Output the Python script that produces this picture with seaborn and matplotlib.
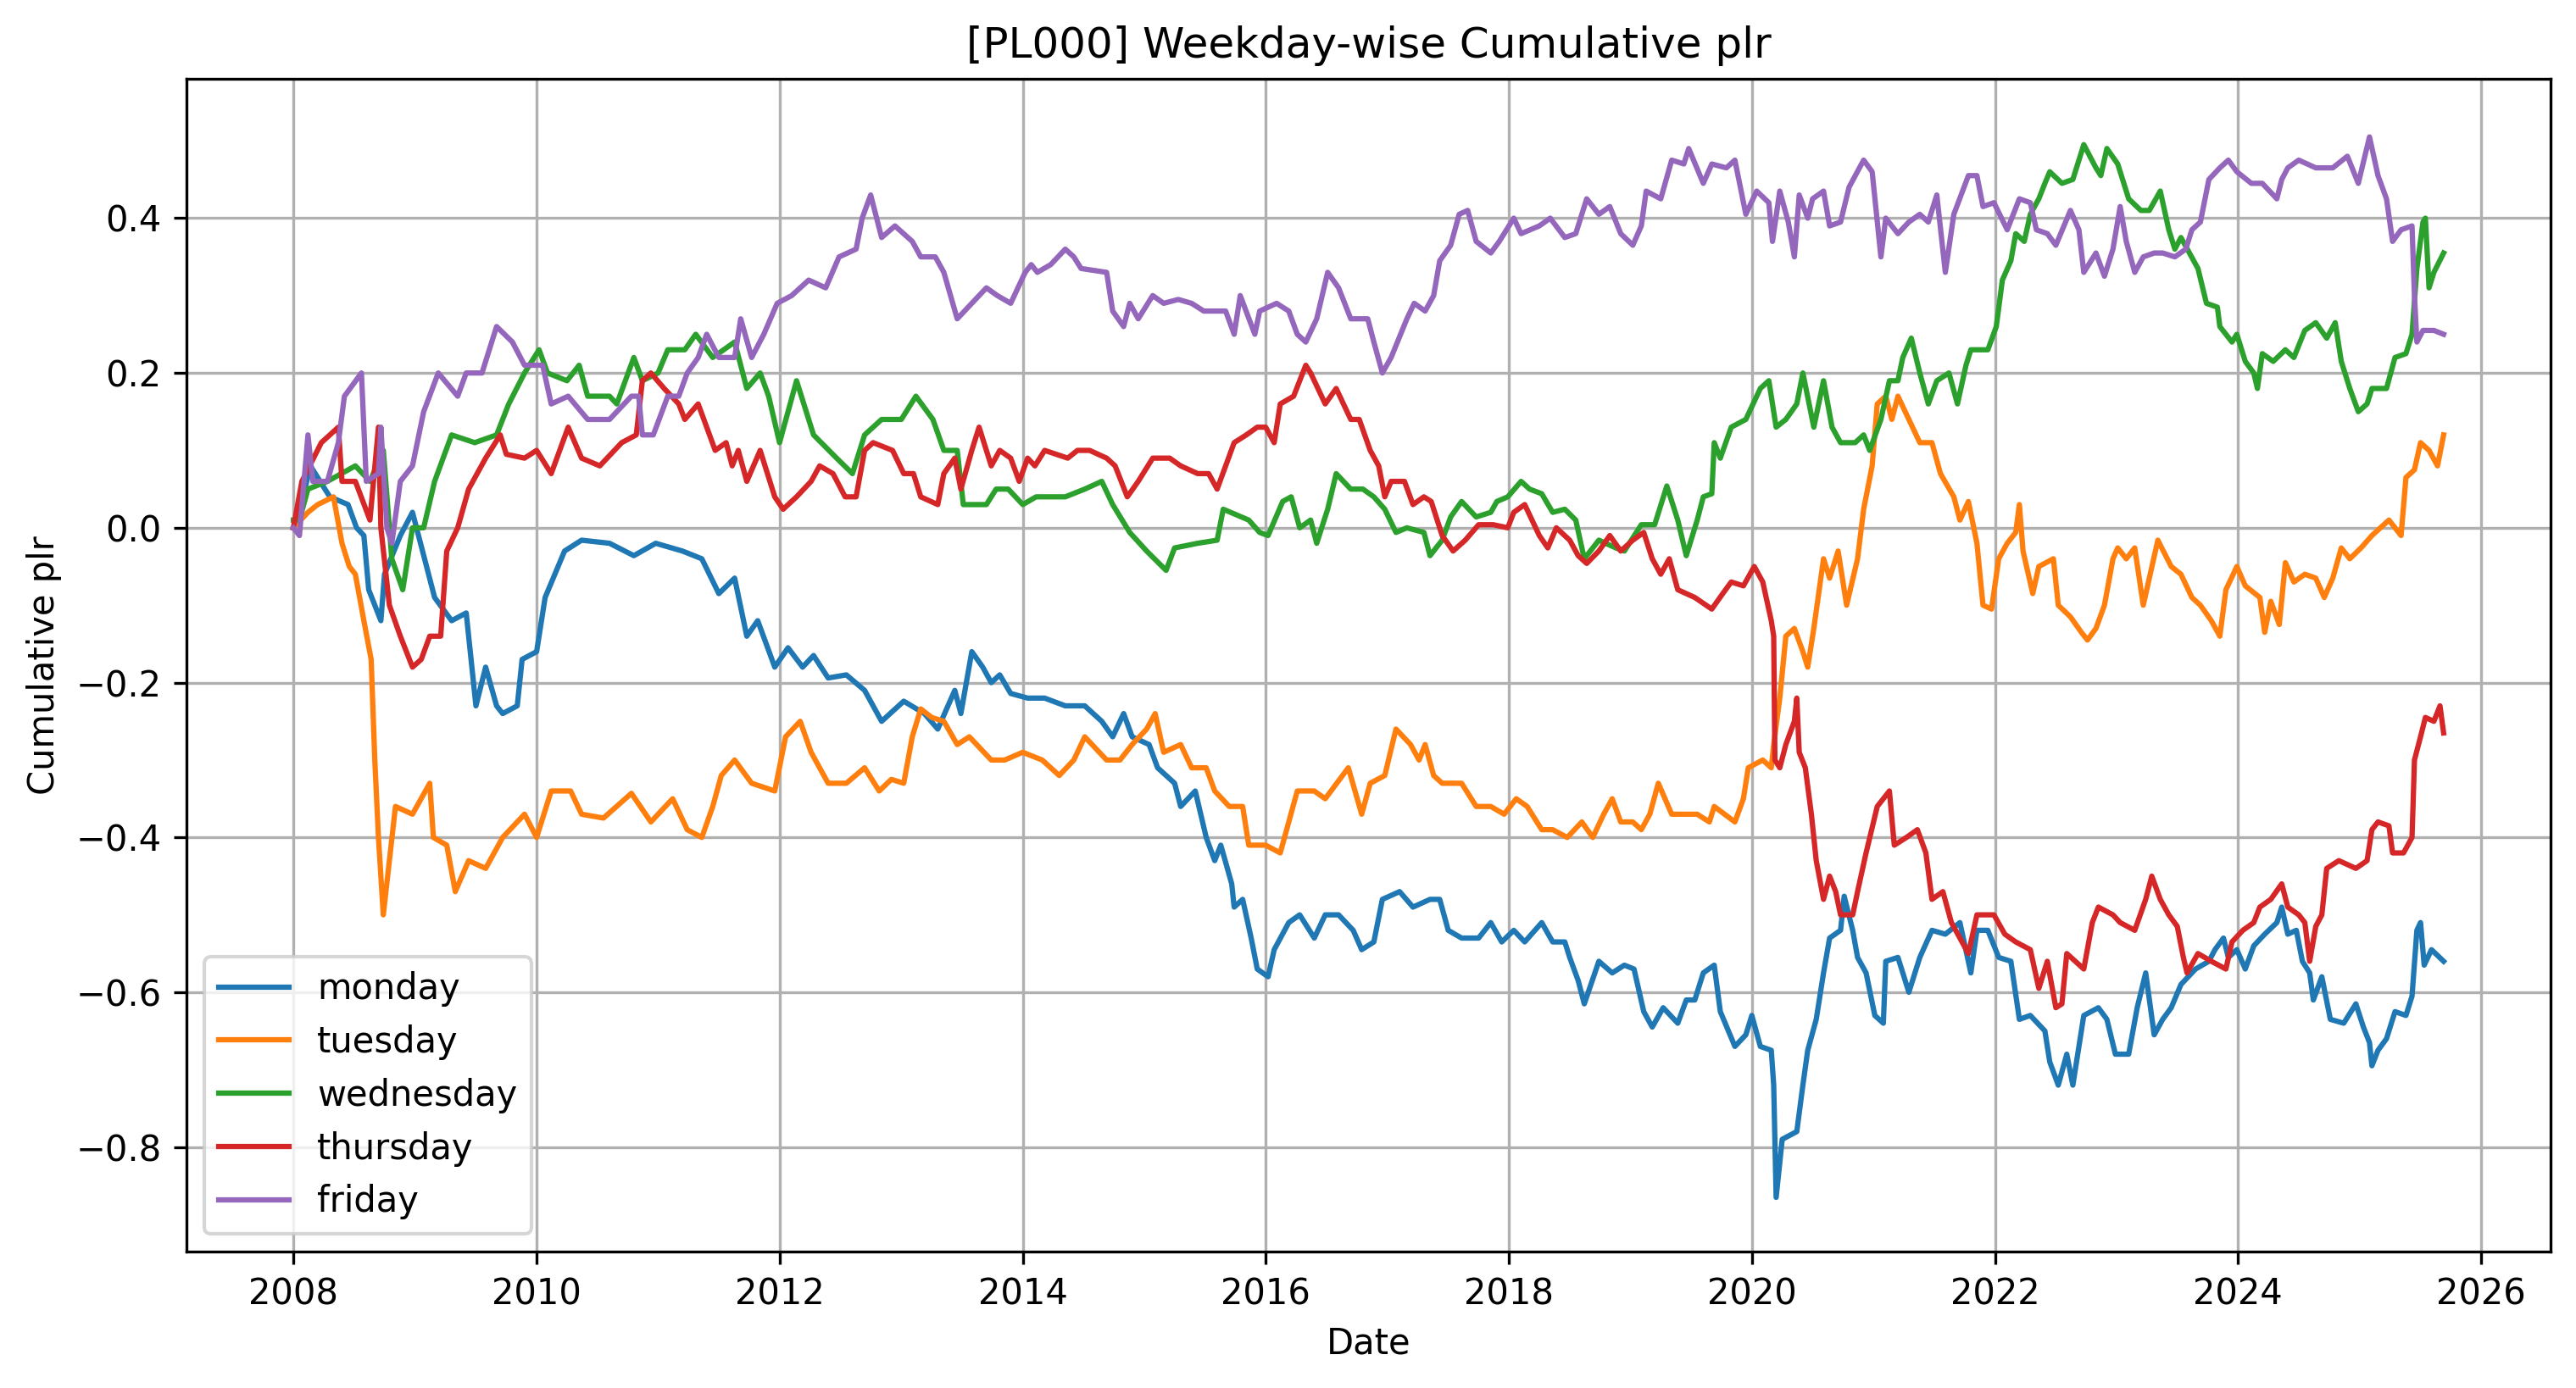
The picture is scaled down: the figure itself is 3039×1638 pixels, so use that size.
import numpy as np
import pandas as pd
import matplotlib
matplotlib.use("Agg")
from matplotlib import pyplot as plt
import seaborn as sns

# Cumulative plr per weekday (time as fractional year)
monday_t = [2008.0, 2008.05, 2008.14, 2008.3, 2008.45, 2008.52, 2008.58, 2008.62, 2008.72, 2008.75, 2008.88, 2008.98,
            2009.16, 2009.3, 2009.42, 2009.5, 2009.58, 2009.67, 2009.72, 2009.84, 2009.88, 2010.0, 2010.07, 2010.23,
            2010.37, 2010.6, 2010.8, 2010.98, 2011.2, 2011.36, 2011.5, 2011.63, 2011.73, 2011.82, 2011.96, 2012.07,
            2012.19, 2012.28, 2012.4, 2012.55, 2012.7, 2012.84, 2013.02, 2013.19, 2013.3, 2013.44, 2013.49, 2013.58,
            2013.67, 2013.74, 2013.81, 2013.9, 2014.04, 2014.18, 2014.35, 2014.51, 2014.65, 2014.74, 2014.83, 2014.9,
            2015.04, 2015.11, 2015.25, 2015.3, 2015.42, 2015.51, 2015.58, 2015.63, 2015.72, 2015.74, 2015.81, 2015.88,
            2015.93, 2016.02, 2016.07, 2016.19, 2016.28, 2016.4, 2016.49, 2016.6, 2016.72, 2016.79, 2016.89, 2016.96,
            2017.1, 2017.21, 2017.35, 2017.43, 2017.5, 2017.61, 2017.75, 2017.85, 2017.94, 2018.04, 2018.13, 2018.27,
            2018.36, 2018.46, 2018.5, 2018.57, 2018.62, 2018.74, 2018.85, 2018.95, 2019.03, 2019.11, 2019.18, 2019.27,
            2019.39, 2019.46, 2019.53, 2019.6, 2019.69, 2019.74, 2019.86, 2019.95, 2020.0, 2020.07, 2020.16, 2020.18,
            2020.2, 2020.25, 2020.37, 2020.42, 2020.46, 2020.53, 2020.59, 2020.64, 2020.73, 2020.76, 2020.83, 2020.87,
            2020.94, 2021.01, 2021.08, 2021.1, 2021.2, 2021.29, 2021.38, 2021.48, 2021.59, 2021.71, 2021.8, 2021.85,
            2021.94, 2022.03, 2022.13, 2022.2, 2022.29, 2022.41, 2022.45, 2022.52, 2022.59, 2022.64, 2022.73, 2022.85,
            2022.92, 2022.99, 2023.1, 2023.17, 2023.24, 2023.31, 2023.38, 2023.45, 2023.53, 2023.65, 2023.76, 2023.81,
            2023.88, 2023.92, 2023.99, 2024.06, 2024.13, 2024.22, 2024.32, 2024.36, 2024.41, 2024.48, 2024.53, 2024.59,
            2024.62, 2024.69, 2024.76, 2024.87, 2024.97, 2025.03, 2025.08, 2025.1, 2025.15, 2025.22, 2025.29, 2025.38,
            2025.43, 2025.47, 2025.5, 2025.53, 2025.59, 2025.69]
monday_v = [0.0, 0.02, 0.08, 0.04, 0.03, 0.0, -0.01, -0.08, -0.12, -0.06, -0.01, 0.02,
            -0.09, -0.12, -0.11, -0.23, -0.18, -0.23, -0.24, -0.23, -0.17, -0.16, -0.09, -0.03,
            -0.016, -0.02, -0.036, -0.02, -0.03, -0.04, -0.085, -0.065, -0.14, -0.12, -0.18, -0.155,
            -0.18, -0.165, -0.194, -0.19, -0.21, -0.25, -0.224, -0.24, -0.26, -0.21, -0.24, -0.16,
            -0.18, -0.2, -0.19, -0.214, -0.22, -0.22, -0.23, -0.23, -0.25, -0.27, -0.24, -0.27,
            -0.28, -0.31, -0.33, -0.36, -0.34, -0.40, -0.43, -0.41, -0.46, -0.49, -0.48, -0.53,
            -0.57, -0.58, -0.545, -0.51, -0.50, -0.53, -0.50, -0.50, -0.52, -0.545, -0.535, -0.48,
            -0.47, -0.49, -0.48, -0.48, -0.52, -0.53, -0.53, -0.51, -0.535, -0.52, -0.535, -0.51,
            -0.535, -0.535, -0.555, -0.585, -0.615, -0.56, -0.575, -0.565, -0.57, -0.625, -0.645, -0.62,
            -0.64, -0.61, -0.61, -0.575, -0.565, -0.625, -0.67, -0.655, -0.63, -0.67, -0.675, -0.72,
            -0.865, -0.79, -0.78, -0.72, -0.675, -0.635, -0.575, -0.53, -0.52, -0.476, -0.52, -0.555,
            -0.575, -0.63, -0.64, -0.56, -0.555, -0.60, -0.555, -0.52, -0.525, -0.51, -0.575, -0.52,
            -0.52, -0.555, -0.56, -0.635, -0.63, -0.65, -0.69, -0.72, -0.68, -0.72, -0.63, -0.62,
            -0.635, -0.68, -0.68, -0.62, -0.575, -0.655, -0.635, -0.62, -0.59, -0.57, -0.56, -0.545,
            -0.53, -0.555, -0.545, -0.57, -0.54, -0.525, -0.51, -0.49, -0.525, -0.52, -0.56, -0.575,
            -0.61, -0.58, -0.635, -0.64, -0.615, -0.645, -0.665, -0.695, -0.675, -0.66, -0.625, -0.63,
            -0.605, -0.52, -0.51, -0.565, -0.545, -0.56]

tuesday_t = [2008.0, 2008.12, 2008.2, 2008.33, 2008.4, 2008.46, 2008.51, 2008.58, 2008.64, 2008.67, 2008.7, 2008.74,
             2008.79, 2008.84, 2008.98, 2009.12, 2009.15, 2009.26, 2009.33, 2009.44, 2009.58, 2009.72, 2009.9, 2010.0,
             2010.12, 2010.28, 2010.37, 2010.55, 2010.78, 2010.94, 2011.12, 2011.24, 2011.36, 2011.45, 2011.52, 2011.63,
             2011.77, 2011.96, 2012.05, 2012.17, 2012.26, 2012.4, 2012.55, 2012.7, 2012.82, 2012.92, 2013.02, 2013.09,
             2013.16, 2013.25, 2013.35, 2013.46, 2013.56, 2013.74, 2013.85, 2014.0, 2014.16, 2014.3, 2014.42, 2014.51,
             2014.69, 2014.8, 2014.9, 2015.02, 2015.09, 2015.16, 2015.3, 2015.39, 2015.51, 2015.58, 2015.7, 2015.81,
             2015.86, 2016.0, 2016.12, 2016.26, 2016.4, 2016.49, 2016.68, 2016.79, 2016.86, 2016.98, 2017.07, 2017.19,
             2017.26, 2017.31, 2017.38, 2017.45, 2017.61, 2017.73, 2017.85, 2017.96, 2018.06, 2018.15, 2018.27, 2018.36,
             2018.48, 2018.6, 2018.69, 2018.78, 2018.85, 2018.92, 2019.02, 2019.09, 2019.16, 2019.23, 2019.34, 2019.46,
             2019.55, 2019.65, 2019.69, 2019.86, 2019.93, 2019.97, 2020.09, 2020.16, 2020.18, 2020.23, 2020.28, 2020.35,
             2020.42, 2020.46, 2020.51, 2020.59, 2020.64, 2020.71, 2020.78, 2020.87, 2020.92, 2020.99, 2021.03, 2021.1,
             2021.15, 2021.2, 2021.29, 2021.38, 2021.48, 2021.55, 2021.66, 2021.71, 2021.78, 2021.85, 2021.9, 2021.97,
             2022.03, 2022.1, 2022.17, 2022.2, 2022.23, 2022.31, 2022.36, 2022.48, 2022.52, 2022.62, 2022.71, 2022.76,
             2022.83, 2022.9, 2022.97, 2023.01, 2023.08, 2023.15, 2023.22, 2023.27, 2023.34, 2023.45, 2023.53, 2023.62,
             2023.69, 2023.78, 2023.85, 2023.9, 2023.99, 2024.06, 2024.18, 2024.22, 2024.27, 2024.34, 2024.39, 2024.46,
             2024.55, 2024.64, 2024.71, 2024.78, 2024.85, 2024.92, 2025.01, 2025.1, 2025.24, 2025.34, 2025.38, 2025.45,
             2025.5, 2025.57, 2025.64, 2025.69]
tuesday_v = [0.0, 0.02, 0.03, 0.04, -0.02, -0.05, -0.06, -0.12, -0.17, -0.30, -0.40, -0.50,
             -0.43, -0.36, -0.37, -0.33, -0.40, -0.41, -0.47, -0.43, -0.44, -0.40, -0.37, -0.40,
             -0.34, -0.34, -0.37, -0.375, -0.343, -0.38, -0.35, -0.39, -0.40, -0.36, -0.32, -0.30,
             -0.33, -0.34, -0.27, -0.25, -0.29, -0.33, -0.33, -0.31, -0.34, -0.325, -0.33, -0.27,
             -0.234, -0.245, -0.25, -0.28, -0.27, -0.30, -0.30, -0.29, -0.30, -0.32, -0.30, -0.27,
             -0.30, -0.30, -0.28, -0.26, -0.24, -0.29, -0.28, -0.31, -0.31, -0.34, -0.36, -0.36,
             -0.41, -0.41, -0.42, -0.34, -0.34, -0.35, -0.31, -0.37, -0.33, -0.32, -0.26, -0.28,
             -0.30, -0.28, -0.32, -0.33, -0.33, -0.36, -0.36, -0.37, -0.35, -0.36, -0.39, -0.39,
             -0.40, -0.38, -0.40, -0.37, -0.35, -0.38, -0.38, -0.39, -0.37, -0.33, -0.37, -0.37,
             -0.37, -0.38, -0.36, -0.38, -0.35, -0.31, -0.30, -0.31, -0.28, -0.22, -0.14, -0.13,
             -0.16, -0.18, -0.13, -0.04, -0.065, -0.03, -0.10, -0.04, 0.024, 0.08, 0.16, 0.17,
             0.14, 0.17, 0.14, 0.11, 0.11, 0.07, 0.04, 0.01, 0.034, -0.02, -0.10, -0.105,
             -0.04, -0.02, -0.006, 0.03, -0.03, -0.085, -0.05, -0.04, -0.10, -0.115, -0.135, -0.145,
             -0.13, -0.10, -0.04, -0.026, -0.04, -0.026, -0.10, -0.065, -0.016, -0.05, -0.06, -0.09,
             -0.10, -0.12, -0.14, -0.08, -0.05, -0.075, -0.09, -0.135, -0.095, -0.125, -0.045, -0.07,
             -0.06, -0.065, -0.09, -0.065, -0.026, -0.04, -0.026, -0.01, 0.01, -0.01, 0.065, 0.075,
             0.11, 0.10, 0.08, 0.12]

wednesday_t = [2008.0, 2008.05, 2008.12, 2008.28, 2008.51, 2008.63, 2008.74, 2008.81, 2008.9, 2008.98, 2009.07, 2009.16,
               2009.3, 2009.49, 2009.67, 2009.77, 2009.9, 2010.02, 2010.09, 2010.25, 2010.35, 2010.42, 2010.6, 2010.66,
               2010.8, 2010.87, 2011.0, 2011.08, 2011.22, 2011.31, 2011.45, 2011.63, 2011.73, 2011.84, 2011.91, 2012.0,
               2012.14, 2012.28, 2012.47, 2012.6, 2012.7, 2012.84, 2013.0, 2013.12, 2013.26, 2013.35, 2013.46, 2013.51,
               2013.7, 2013.78, 2013.88, 2014.0, 2014.11, 2014.35, 2014.51, 2014.65, 2014.74, 2014.88, 2015.02, 2015.18,
               2015.25, 2015.44, 2015.6, 2015.65, 2015.86, 2015.95, 2016.02, 2016.14, 2016.21, 2016.28, 2016.37, 2016.42,
               2016.51, 2016.58, 2016.7, 2016.8, 2016.89, 2016.98, 2017.07, 2017.16, 2017.3, 2017.35, 2017.45, 2017.52,
               2017.61, 2017.73, 2017.85, 2017.9, 2017.99, 2018.1, 2018.17, 2018.27, 2018.36, 2018.46, 2018.55, 2018.62,
               2018.74, 2018.88, 2018.95, 2019.09, 2019.2, 2019.3, 2019.39, 2019.46, 2019.55, 2019.6, 2019.67, 2019.69,
               2019.74, 2019.83, 2019.95, 2020.07, 2020.14, 2020.2, 2020.28, 2020.37, 2020.42, 2020.51, 2020.59, 2020.66,
               2020.73, 2020.85, 2020.92, 2020.97, 2021.06, 2021.13, 2021.2, 2021.24, 2021.31, 2021.38, 2021.45, 2021.52,
               2021.62, 2021.69, 2021.76, 2021.8, 2021.94, 2022.01, 2022.06, 2022.13, 2022.17, 2022.24, 2022.29, 2022.36,
               2022.41, 2022.45, 2022.55, 2022.64, 2022.73, 2022.83, 2022.87, 2022.92, 2023.01, 2023.1, 2023.2, 2023.27,
               2023.36, 2023.43, 2023.48, 2023.53, 2023.6, 2023.67, 2023.74, 2023.83, 2023.85, 2023.95, 2023.99, 2024.06,
               2024.13, 2024.16, 2024.2, 2024.29, 2024.39, 2024.46, 2024.55, 2024.64, 2024.73, 2024.8, 2024.85, 2024.92,
               2024.99, 2025.06, 2025.1, 2025.22, 2025.29, 2025.38, 2025.43, 2025.47, 2025.52, 2025.54, 2025.57, 2025.61,
               2025.69]
wednesday_v = [0.01, 0.01, 0.05, 0.06, 0.08, 0.06, 0.10, -0.04, -0.08, 0.0, 0.0, 0.06,
               0.12, 0.11, 0.12, 0.16, 0.20, 0.23, 0.20, 0.19, 0.21, 0.17, 0.17, 0.16,
               0.22, 0.19, 0.20, 0.23, 0.23, 0.25, 0.22, 0.24, 0.18, 0.20, 0.17, 0.11,
               0.19, 0.12, 0.09, 0.07, 0.12, 0.14, 0.14, 0.17, 0.14, 0.10, 0.10, 0.03,
               0.03, 0.05, 0.05, 0.03, 0.04, 0.04, 0.05, 0.06, 0.03, -0.006, -0.03, -0.055,
               -0.026, -0.02, -0.016, 0.024, 0.01, -0.006, -0.01, 0.034, 0.04, 0.0, 0.01, -0.02,
               0.024, 0.07, 0.05, 0.05, 0.04, 0.024, -0.006, 0.0, -0.006, -0.036, -0.016, 0.014,
               0.034, 0.014, 0.02, 0.034, 0.04, 0.06, 0.05, 0.044, 0.02, 0.024, 0.01, -0.04,
               -0.016, -0.026, -0.03, 0.004, 0.004, 0.054, 0.01, -0.036, 0.01, 0.04, 0.044, 0.11,
               0.09, 0.13, 0.14, 0.18, 0.19, 0.13, 0.14, 0.16, 0.20, 0.13, 0.19, 0.13,
               0.11, 0.11, 0.12, 0.10, 0.14, 0.19, 0.19, 0.22, 0.245, 0.20, 0.16, 0.19,
               0.20, 0.16, 0.21, 0.23, 0.23, 0.26, 0.32, 0.345, 0.38, 0.37, 0.405, 0.425,
               0.445, 0.46, 0.445, 0.45, 0.495, 0.465, 0.455, 0.49, 0.47, 0.425, 0.41, 0.41,
               0.435, 0.385, 0.36, 0.375, 0.355, 0.335, 0.29, 0.285, 0.26, 0.24, 0.25, 0.215,
               0.20, 0.18, 0.225, 0.215, 0.23, 0.22, 0.255, 0.265, 0.245, 0.265, 0.215, 0.18,
               0.15, 0.16, 0.18, 0.18, 0.22, 0.225, 0.25, 0.335, 0.395, 0.40, 0.31, 0.33,
               0.355]

thursday_t = [2008.0, 2008.07, 2008.23, 2008.37, 2008.4, 2008.51, 2008.63, 2008.7, 2008.72, 2008.79, 2008.88, 2008.98,
              2009.05, 2009.12, 2009.21, 2009.26, 2009.35, 2009.44, 2009.58, 2009.7, 2009.75, 2009.9, 2010.0, 2010.12,
              2010.26, 2010.37, 2010.52, 2010.7, 2010.82, 2010.87, 2010.94, 2011.05, 2011.17, 2011.22, 2011.33, 2011.4,
              2011.47, 2011.56, 2011.61, 2011.66, 2011.73, 2011.84, 2011.96, 2012.03, 2012.14, 2012.26, 2012.33, 2012.44,
              2012.54, 2012.63, 2012.7, 2012.77, 2012.93, 2013.02, 2013.1, 2013.16, 2013.3, 2013.35, 2013.44, 2013.49,
              2013.58, 2013.64, 2013.74, 2013.81, 2013.9, 2013.97, 2014.04, 2014.1, 2014.18, 2014.37, 2014.45, 2014.55,
              2014.69, 2014.76, 2014.86, 2014.95, 2015.07, 2015.21, 2015.3, 2015.44, 2015.53, 2015.6, 2015.67, 2015.74,
              2015.84, 2015.93, 2016.0, 2016.07, 2016.12, 2016.23, 2016.33, 2016.37, 2016.49, 2016.58, 2016.7, 2016.77,
              2016.86, 2016.93, 2016.98, 2017.03, 2017.14, 2017.21, 2017.3, 2017.36, 2017.45, 2017.54, 2017.64, 2017.75,
              2017.87, 2017.99, 2018.04, 2018.13, 2018.25, 2018.32, 2018.39, 2018.5, 2018.57, 2018.64, 2018.74, 2018.83,
              2018.92, 2019.02, 2019.11, 2019.18, 2019.25, 2019.32, 2019.39, 2019.53, 2019.67, 2019.76, 2019.83, 2019.93,
              2020.02, 2020.09, 2020.16, 2020.18, 2020.19, 2020.23, 2020.28, 2020.35, 2020.37, 2020.39, 2020.44, 2020.49,
              2020.53, 2020.59, 2020.64, 2020.69, 2020.73, 2020.83, 2020.87, 2020.94, 2021.03, 2021.13, 2021.17, 2021.27,
              2021.36, 2021.43, 2021.48, 2021.57, 2021.64, 2021.71, 2021.78, 2021.85, 2021.99, 2022.08, 2022.17, 2022.29,
              2022.36, 2022.43, 2022.5, 2022.55, 2022.59, 2022.73, 2022.8, 2022.85, 2022.97, 2023.03, 2023.15, 2023.24,
              2023.29, 2023.36, 2023.43, 2023.5, 2023.55, 2023.58, 2023.67, 2023.78, 2023.9, 2023.95, 2024.04, 2024.13,
              2024.18, 2024.27, 2024.36, 2024.41, 2024.5, 2024.55, 2024.59, 2024.64, 2024.69, 2024.73, 2024.83, 2024.97,
              2025.06, 2025.1, 2025.15, 2025.24, 2025.27, 2025.36, 2025.43, 2025.45, 2025.5, 2025.54, 2025.61, 2025.66,
              2025.69]
thursday_v = [0.0, 0.06, 0.11, 0.13, 0.06, 0.06, 0.01, 0.13, 0.0, -0.10, -0.14, -0.18,
              -0.17, -0.14, -0.14, -0.03, 0.0, 0.05, 0.09, 0.12, 0.095, 0.09, 0.10, 0.07,
              0.13, 0.09, 0.08, 0.11, 0.12, 0.19, 0.20, 0.18, 0.16, 0.14, 0.16, 0.13,
              0.10, 0.11, 0.08, 0.10, 0.06, 0.10, 0.04, 0.024, 0.04, 0.06, 0.08, 0.07,
              0.04, 0.04, 0.10, 0.11, 0.10, 0.07, 0.07, 0.04, 0.03, 0.07, 0.09, 0.05,
              0.10, 0.13, 0.08, 0.10, 0.09, 0.06, 0.09, 0.08, 0.10, 0.09, 0.10, 0.10,
              0.09, 0.08, 0.04, 0.06, 0.09, 0.09, 0.08, 0.07, 0.07, 0.05, 0.08, 0.11,
              0.12, 0.13, 0.13, 0.11, 0.16, 0.17, 0.21, 0.20, 0.16, 0.18, 0.14, 0.14,
              0.10, 0.08, 0.04, 0.06, 0.06, 0.03, 0.04, 0.034, -0.01, -0.03, -0.016, 0.004,
              0.004, 0.0, 0.02, 0.03, -0.01, -0.026, 0.0, -0.016, -0.036, -0.046, -0.03, -0.01,
              -0.03, -0.016, -0.006, -0.04, -0.06, -0.04, -0.08, -0.09, -0.105, -0.085, -0.07, -0.075,
              -0.05, -0.07, -0.12, -0.14, -0.30, -0.31, -0.28, -0.25, -0.22, -0.29, -0.31, -0.37,
              -0.43, -0.48, -0.45, -0.47, -0.50, -0.50, -0.47, -0.42, -0.36, -0.34, -0.41, -0.40,
              -0.39, -0.42, -0.48, -0.47, -0.51, -0.53, -0.55, -0.50, -0.50, -0.525, -0.535, -0.545,
              -0.595, -0.56, -0.62, -0.615, -0.55, -0.57, -0.51, -0.49, -0.50, -0.51, -0.52, -0.48,
              -0.45, -0.48, -0.50, -0.515, -0.555, -0.575, -0.55, -0.56, -0.57, -0.535, -0.52, -0.51,
              -0.49, -0.48, -0.46, -0.49, -0.50, -0.51, -0.56, -0.515, -0.50, -0.44, -0.43, -0.44,
              -0.43, -0.39, -0.38, -0.385, -0.42, -0.42, -0.40, -0.30, -0.27, -0.245, -0.25, -0.23,
              -0.265]

friday_t = [2008.0, 2008.05, 2008.12, 2008.16, 2008.28, 2008.37, 2008.42, 2008.56, 2008.6, 2008.7, 2008.72, 2008.77,
            2008.81, 2008.88, 2008.98, 2009.07, 2009.19, 2009.35, 2009.42, 2009.55, 2009.67, 2009.8, 2009.9, 2010.05,
            2010.12, 2010.26, 2010.42, 2010.6, 2010.78, 2010.84, 2010.87, 2010.96, 2011.08, 2011.17, 2011.24, 2011.33,
            2011.4, 2011.5, 2011.63, 2011.68, 2011.77, 2011.87, 2011.98, 2012.1, 2012.24, 2012.38, 2012.49, 2012.63,
            2012.68, 2012.75, 2012.84, 2012.95, 2013.09, 2013.16, 2013.28, 2013.35, 2013.46, 2013.58, 2013.7, 2013.79,
            2013.9, 2014.02, 2014.07, 2014.12, 2014.23, 2014.35, 2014.42, 2014.48, 2014.69, 2014.74, 2014.83, 2014.88,
            2014.95, 2015.07, 2015.16, 2015.28, 2015.39, 2015.49, 2015.67, 2015.74, 2015.79, 2015.91, 2015.95, 2016.09,
            2016.19, 2016.26, 2016.33, 2016.42, 2016.51, 2016.6, 2016.7, 2016.84, 2016.89, 2016.96, 2017.03, 2017.16,
            2017.22, 2017.31, 2017.38, 2017.43, 2017.52, 2017.59, 2017.66, 2017.73, 2017.85, 2017.92, 2018.04, 2018.1,
            2018.25, 2018.34, 2018.46, 2018.55, 2018.64, 2018.74, 2018.83, 2018.92, 2019.02, 2019.09, 2019.13, 2019.25,
            2019.34, 2019.44, 2019.48, 2019.6, 2019.67, 2019.79, 2019.86, 2019.95, 2020.04, 2020.14, 2020.17, 2020.23,
            2020.3, 2020.35, 2020.39, 2020.46, 2020.5, 2020.59, 2020.64, 2020.73, 2020.8, 2020.92, 2020.99, 2021.06,
            2021.1, 2021.2, 2021.29, 2021.38, 2021.45, 2021.52, 2021.59, 2021.66, 2021.78, 2021.85, 2021.9, 2021.99,
            2022.1, 2022.2, 2022.29, 2022.34, 2022.43, 2022.5, 2022.62, 2022.69, 2022.73, 2022.83, 2022.9, 2022.97,
            2023.03, 2023.08, 2023.15, 2023.22, 2023.31, 2023.38, 2023.48, 2023.57, 2023.62, 2023.69, 2023.76, 2023.85,
            2023.92, 2023.99, 2024.11, 2024.2, 2024.32, 2024.36, 2024.41, 2024.5, 2024.64, 2024.78, 2024.9, 2024.99,
            2025.08, 2025.15, 2025.22, 2025.27, 2025.34, 2025.43, 2025.45, 2025.47, 2025.52, 2025.61, 2025.69]
friday_v = [0.0, -0.01, 0.12, 0.06, 0.06, 0.11, 0.17, 0.20, 0.06, 0.07, 0.13, 0.0,
            -0.02, 0.06, 0.08, 0.15, 0.20, 0.17, 0.20, 0.20, 0.26, 0.24, 0.21, 0.21,
            0.16, 0.17, 0.14, 0.14, 0.17, 0.17, 0.12, 0.12, 0.17, 0.17, 0.20, 0.22,
            0.25, 0.22, 0.22, 0.27, 0.22, 0.25, 0.29, 0.30, 0.32, 0.31, 0.35, 0.36,
            0.40, 0.43, 0.375, 0.39, 0.37, 0.35, 0.35, 0.33, 0.27, 0.29, 0.31, 0.30,
            0.29, 0.33, 0.34, 0.33, 0.34, 0.36, 0.35, 0.335, 0.33, 0.28, 0.26, 0.29,
            0.27, 0.30, 0.29, 0.295, 0.29, 0.28, 0.28, 0.25, 0.30, 0.25, 0.28, 0.29,
            0.28, 0.25, 0.24, 0.27, 0.33, 0.31, 0.27, 0.27, 0.24, 0.20, 0.22, 0.27,
            0.29, 0.28, 0.30, 0.345, 0.365, 0.405, 0.41, 0.37, 0.355, 0.37, 0.40, 0.38,
            0.39, 0.40, 0.375, 0.38, 0.425, 0.405, 0.415, 0.38, 0.365, 0.39, 0.435, 0.425,
            0.475, 0.47, 0.49, 0.445, 0.47, 0.465, 0.475, 0.405, 0.435, 0.42, 0.37, 0.435,
            0.395, 0.35, 0.43, 0.40, 0.425, 0.435, 0.39, 0.395, 0.44, 0.475, 0.46, 0.35,
            0.40, 0.38, 0.395, 0.405, 0.395, 0.43, 0.33, 0.405, 0.455, 0.455, 0.415, 0.42,
            0.385, 0.425, 0.42, 0.385, 0.38, 0.365, 0.41, 0.385, 0.33, 0.355, 0.325, 0.36,
            0.415, 0.37, 0.33, 0.35, 0.355, 0.355, 0.35, 0.36, 0.385, 0.395, 0.45, 0.465,
            0.475, 0.46, 0.445, 0.445, 0.425, 0.45, 0.465, 0.475, 0.465, 0.465, 0.48, 0.445,
            0.505, 0.455, 0.425, 0.37, 0.385, 0.39, 0.30, 0.24, 0.255, 0.255, 0.25]

series = [
    ("monday", monday_t, monday_v),
    ("tuesday", tuesday_t, tuesday_v),
    ("wednesday", wednesday_t, wednesday_v),
    ("thursday", thursday_t, thursday_v),
    ("friday", friday_t, friday_v),
]


def to_dates(years):
    """Turn fractional years into timestamps."""
    years = np.asarray(years, dtype=float)
    whole = np.floor(years).astype(int)
    start = pd.to_datetime([f"{y}-01-01" for y in whole])
    return start + pd.to_timedelta((years - whole) * 365.25, unit="D")


frames = []
for name, t, v in series:
    frames.append(pd.DataFrame({"Date": to_dates(t), "value": v, "weekday": name}))
df = pd.concat(frames, ignore_index=True)

fig, ax = plt.subplots(figsize=(10.13, 5.46), dpi=300)
fig.subplots_adjust(left=0.0724, right=0.9901, top=0.9432, bottom=0.0983)

colors = sns.color_palette("tab10", 5)
for (name, _, _), c in zip(series, colors):
    sub = df[df["weekday"] == name]
    sns.lineplot(data=sub, x="Date", y="value", ax=ax, color=c, label=name, linewidth=1.5)

ax.set_xlim(to_dates([2007.12])[0], to_dates([2026.57])[0])
ax.set_ylim(-0.935, 0.58)
ax.grid(True)
ax.set_title("[PL000] Weekday-wise Cumulative plr")
ax.set_xlabel("Date")
ax.set_ylabel("Cumulative plr")
ax.legend(loc="lower left")

fig.savefig("out.png", dpi=300)
plt.close()
